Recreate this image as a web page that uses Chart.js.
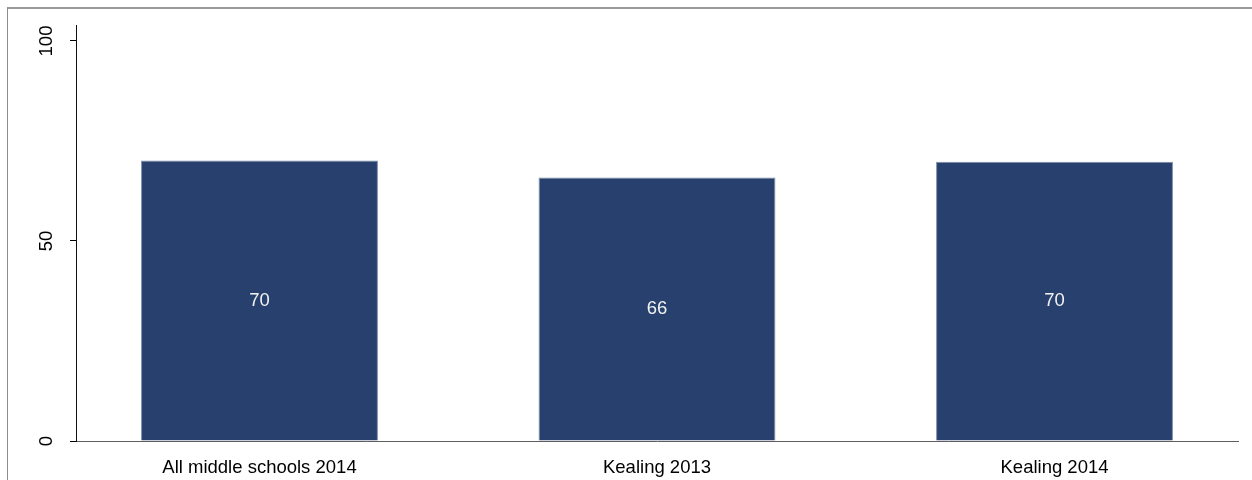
<!DOCTYPE html>
<html>
<head>
<meta charset="utf-8">
<script src="https://cdn.jsdelivr.net/npm/chart.js@4"></script>
<style>
  html, body { margin: 0; padding: 0; background: #fff; }
  #wrap { position: relative; width: 1252px; height: 480px; overflow: hidden; }
  #frame { position: absolute; left: 7px; top: 7px; right: -2px; bottom: -2px; border-left: 1px solid #8c8c8c; border-top: 2px solid #9a9a9a; }
  #barChart { position: absolute; left: 0; top: 0; }
</style>
</head>
<body>
<div id="wrap">
  <div id="frame"></div>
  <canvas id="barChart" width="1252" height="480"></canvas>
</div>
<script>
const categories = ['All middle schools 2014', 'Kealing 2013', 'Kealing 2014'];
const values = [70.1, 65.9, 69.8];
const yTicks = [0, 50, 100];

const fontFamily = '"Liberation Sans", Arial, sans-serif';

// value labels in the middle of each bar
const barValueLabels = {
  id: 'barValueLabels',
  afterDatasetsDraw(chart) {
    const ctx = chart.ctx;
    const meta = chart.getDatasetMeta(0);
    ctx.save();
    ctx.fillStyle = '#f2f2f2';
    ctx.font = '18.5px ' + fontFamily;
    ctx.textAlign = 'center';
    ctx.textBaseline = 'middle';
    meta.data.forEach(function (bar, i) {
      ctx.fillText(String(Math.round(values[i])), bar.x, (bar.y + bar.base) / 2);
    });
    ctx.restore();
  }
};

window.onload = function () {
  const ctx = document.getElementById('barChart').getContext('2d');
  new Chart(ctx, {
    type: 'bar',
    data: {
      datasets: [{
        data: values.map(function (v, i) { return { x: i, y: v }; }),
        backgroundColor: '#27406d',
        borderColor: '#7d8daa',
        borderWidth: 1,
        borderSkipped: 'bottom',
        categoryPercentage: 1,
        barPercentage: 0.596
      }]
    },
    options: {
      responsive: false,
      animation: false,
      devicePixelRatio: 1,
      layout: { padding: { left: 0, top: 25, right: 14, bottom: 0 } },
      plugins: {
        legend: { display: false },
        tooltip: { enabled: false }
      },
      scales: {
        x: {
          type: 'linear',
          offset: false,
          min: -0.4616,
          max: 2.4616,
          afterBuildTicks: function (scale) {
            scale.ticks = categories.map(function (c, i) { return { value: i }; });
          },
          afterFit: function (scale) { scale.height = 39; },
          grid: { display: false, offset: false },
          border: { display: true, color: '#5e5e5e', width: 1 },
          ticks: {
            padding: 8,
            color: '#000',
            font: { family: fontFamily, size: 18.5 },
            maxRotation: 0,
            autoSkip: false,
            callback: function (value) { return categories[value] || ''; }
          }
        },
        y: {
          min: 0,
          max: 104,
          afterBuildTicks: function (scale) {
            scale.ticks = yTicks.map(function (v) { return { value: v }; });
          },
          afterFit: function (scale) { scale.width = 76; },
          grid: { drawOnChartArea: false, tickLength: 6, tickColor: '#000', lineWidth: 1 },
          border: { display: true, color: '#111', width: 1 },
          ticks: {
            padding: 8,
            minRotation: 90,
            maxRotation: 90,
            crossAlign: 'center',
            color: '#000',
            font: { family: fontFamily, size: 18.5 }
          }
        }
      }
    },
    plugins: [barValueLabels]
  });
};
</script>
</body>
</html>
